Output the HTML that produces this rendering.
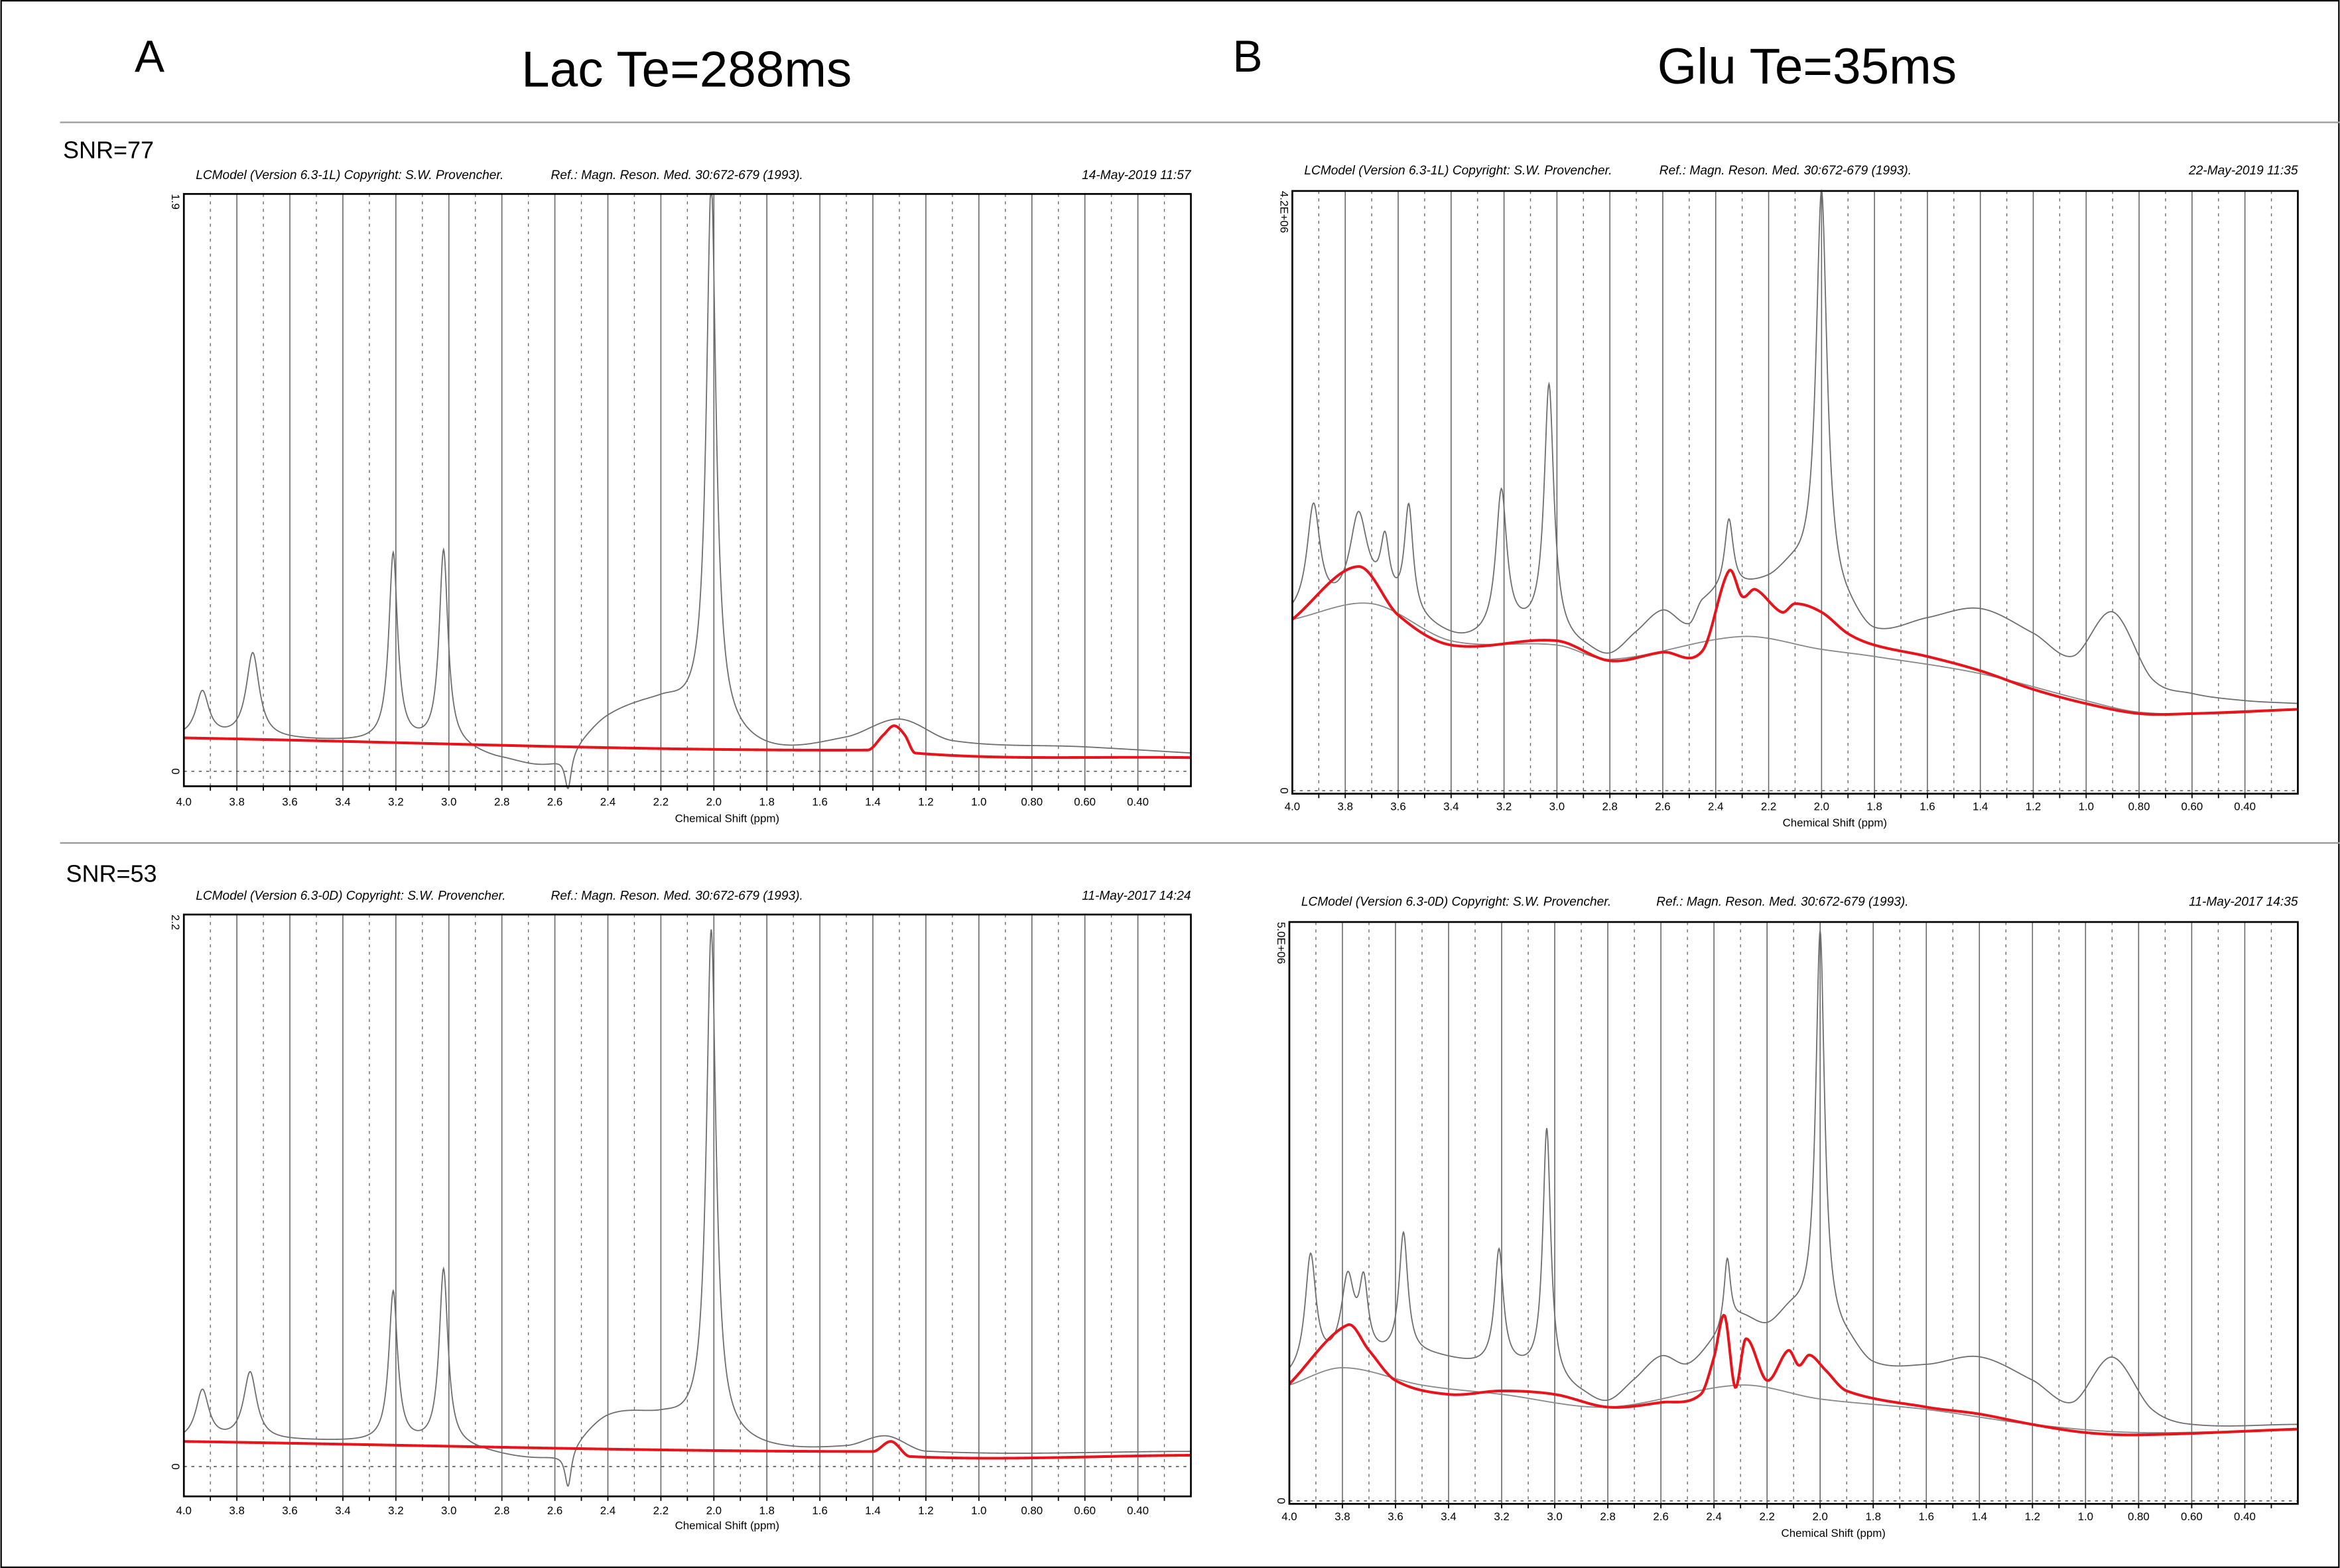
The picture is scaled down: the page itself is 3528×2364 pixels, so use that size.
<!DOCTYPE html>
<html><head><meta charset="utf-8"><style>
html,body{margin:0;padding:0;background:#fff}
svg{display:block}
text{font-family:"Liberation Sans",sans-serif}
</style></head><body>
<svg id="fig" width="3528" height="2364" viewBox="0 0 1568 1051" xmlns="http://www.w3.org/2000/svg">
<rect x="0.5" y="0.5" width="1567" height="1050" fill="#fff" stroke="#000" stroke-width="1"/>
<text x="90" y="48" font-size="30">A</text>
<text x="460" y="58" font-size="34" text-anchor="middle">Lac Te=288ms</text>
<text x="826" y="48" font-size="30">B</text>
<text x="1211" y="56" font-size="34" text-anchor="middle">Glu Te=35ms</text>
<line x1="40" y1="82" x2="1568" y2="82" stroke="#999" stroke-width="1"/>
<line x1="40" y1="565" x2="1568" y2="565" stroke="#999" stroke-width="1"/>
<text x="42" y="106" font-size="16">SNR=77</text>
<text x="44" y="591" font-size="16">SNR=53</text>
</svg>
<script>
// ---- data (ppm, value) ----
const ticksPpm = [4.0,3.8,3.6,3.4,3.2,3.0,2.8,2.6,2.4,2.2,2.0,1.8,1.6,1.4,1.2,1.0,0.8,0.6,0.4];
const tickLabels = ["4.0","3.8","3.6","3.4","3.2","3.0","2.8","2.6","2.4","2.2","2.0","1.8","1.6","1.4","1.2","1.0","0.80","0.60","0.40"];

const a1Base = [[4.0,0.11],[3.5,0.10],[3.0,0.08],[2.8,0.04],[2.6,0.03],[2.4,0.18],[2.2,0.23],[2.1,0.20],[1.8,0.08],[1.5,0.11],[1.3,0.17],[1.1,0.10],[0.6,0.08],[0.2,0.06]];
const a1Peaks = [[3.93,0.15,0.03],[3.74,0.28,0.03],[3.21,0.62,0.02],[3.02,0.64,0.02],[2.01,1.78,0.022],[2.55,-0.12,0.015]];
const a1Fit = [[4.0,0.11],[1.42,0.07],[1.36,0.12],[1.32,0.15],[1.28,0.12],[1.24,0.06],[0.2,0.045]];
const a1Bl = [];

const a2Base = [[4.0,0.10],[3.5,0.10],[3.0,0.08],[2.6,0.04],[2.4,0.20],[2.2,0.20],[2.1,0.17],[1.8,0.08],[1.5,0.08],[1.35,0.12],[1.2,0.06],[0.2,0.06]];
const a2Peaks = [[3.93,0.20,0.03],[3.75,0.27,0.03],[3.21,0.60,0.02],[3.02,0.70,0.02],[2.01,2.0,0.022],[2.55,-0.15,0.015]];
const a2Fit = [[4.0,0.10],[1.40,0.06],[1.33,0.10],[1.26,0.04],[0.2,0.045]];
const a2Bl = [];

const b1Base = [[4.0,1.20],[3.85,1.25],[3.7,1.31],[3.5,1.15],[3.35,1.05],[3.1,1.10],[2.9,0.99],[2.8,0.94],[2.7,1.10],[2.6,1.25],[2.5,1.15],[2.45,1.31],[2.3,1.41],[2.2,1.46],[2.1,1.52],[1.9,1.25],[1.8,1.10],[1.6,1.20],[1.4,1.27],[1.2,1.10],[1.05,0.94],[0.9,1.25],[0.75,0.78],[0.6,0.68],[0.4,0.63],[0.2,0.61]];
const b1Peaks = [[3.92,0.75,0.03],[3.75,0.6,0.04],[3.65,0.4,0.02],[3.56,0.75,0.02],[3.21,1.0,0.025],[3.03,1.75,0.022],[2.35,0.5,0.02],[2.0,2.8,0.025]];
const b1Fit = [[4.0,1.20],[3.75,1.57],[3.6,1.23],[3.4,1.02],[3.0,1.05],[2.8,0.91],[2.6,0.97],[2.45,0.98],[2.35,1.54],[2.3,1.36],[2.25,1.41],[2.15,1.25],[2.1,1.31],[2.0,1.25],[1.9,1.10],[1.8,1.02],[1.6,0.94],[1.4,0.84],[1.2,0.71],[1.0,0.61],[0.8,0.54],[0.6,0.54],[0.2,0.57]];
const b1Bl = [[4.0,1.20],[3.7,1.31],[3.4,1.05],[3.0,1.02],[2.8,0.92],[2.3,1.08],[2.0,0.99],[1.8,0.94],[1.4,0.82],[1.0,0.63],[0.8,0.55],[0.5,0.54],[0.2,0.57]];

const b2Base = [[4.0,1.04],[3.8,1.17],[3.5,1.24],[3.3,1.17],[3.1,1.11],[2.9,0.92],[2.8,0.85],[2.7,1.04],[2.6,1.24],[2.5,1.17],[2.4,1.37],[2.3,1.56],[2.2,1.50],[2.1,1.62],[1.9,1.37],[1.8,1.17],[1.6,1.17],[1.4,1.24],[1.2,1.04],[1.05,0.85],[0.9,1.24],[0.75,0.79],[0.6,0.66],[0.2,0.66]];
const b2Peaks = [[3.92,1.0,0.025],[3.78,0.7,0.03],[3.72,0.6,0.02],[3.57,1.05,0.02],[3.21,1.0,0.02],[3.03,2.15,0.018],[2.35,0.6,0.015],[2.0,3.4,0.02]];
const b2Fit = [[4.0,1.01],[3.78,1.52],[3.7,1.30],[3.6,1.04],[3.4,0.92],[3.2,0.95],[3.0,0.92],[2.8,0.81],[2.6,0.85],[2.45,0.92],[2.4,1.24],[2.36,1.60],[2.32,0.98],[2.28,1.40],[2.2,1.04],[2.12,1.30],[2.08,1.17],[2.04,1.26],[1.98,1.13],[1.9,0.95],[1.6,0.81],[1.4,0.75],[1.2,0.66],[1.0,0.59],[0.8,0.57],[0.2,0.62]];
const b2Bl = [[4.0,1.0],[3.8,1.15],[3.5,1.0],[3.2,0.92],[2.8,0.81],[2.3,1.0],[2.0,0.88],[1.6,0.79],[1.2,0.66],[0.8,0.59],[0.2,0.62]];

const NS = "http://www.w3.org/2000/svg";
const svg = document.getElementById('fig');
function mk(tag, attrs, parent){const e=document.createElementNS(NS,tag);for(const k in attrs)e.setAttribute(k,attrs[k]);(parent||svg).appendChild(e);return e;}
// smooth (cubic Hermite) interpolation over descending-ppm control points
function slope(pts,i){
 const n=pts.length;
 const a=pts[Math.max(0,i-1)], b=pts[Math.min(n-1,i+1)];
 return (b[1]-a[1])/(b[0]-a[0]);
}
function interp(pts,x){
 for(let i=0;i<pts.length-1;i++){
  const a=pts[i],b=pts[i+1];
  if(x<=a[0]&&x>=b[0]){
   const h=b[0]-a[0]; const t=(x-a[0])/h;
   const m0=slope(pts,i)*h, m1=slope(pts,i+1)*h;
   const t2=t*t,t3=t2*t;
   return (2*t3-3*t2+1)*a[1]+(t3-2*t2+t)*m0+(-2*t3+3*t2)*b[1]+(t3-t2)*m1;
  }
 }
 return pts[pts.length-1][1];
}

const panels = [
 {id:'a1',L:123,R:798,T:130,Z:517,B:527,ymax:1.9,top:'1.9',hy:120,ver:'6.3-1L',date:'14-May-2019  11:57',ly:540,ty:551,base:a1Base,peaks:a1Peaks,fit:a1Fit,bl:a1Bl},
 {id:'b1',L:866,R:1540,T:128,Z:530,B:532,ymax:4.2,top:'4.2E+06',hy:117,ver:'6.3-1L',date:'22-May-2019  11:35',ly:543,ty:554,base:b1Base,peaks:b1Peaks,fit:b1Fit,bl:b1Bl},
 {id:'a2',L:123,R:798,T:613,Z:983,B:1003,ymax:2.2,top:'2.2',hy:603,ver:'6.3-0D',date:'11-May-2017  14:24',ly:1015,ty:1025,base:a2Base,peaks:a2Peaks,fit:a2Fit,bl:a2Bl},
 {id:'b2',L:864,R:1540,T:618,Z:1006,B:1008,ymax:5.0,top:'5.0E+06',hy:607,ver:'6.3-0D',date:'11-May-2017  14:35',ly:1019,ty:1030,base:b2Base,peaks:b2Peaks,fit:b2Fit,bl:b2Bl}
];

panels.forEach(p=>{
 const g = mk('g',{});
 
 
 const xs = v => p.L + (4.0 - v)/(3.8)*(p.R-p.L);
 const ys = v => p.Z - v/p.ymax*(p.Z-p.T);
 const curve = pts => { let d=''; for(let v=4.0; v>=0.2-1e-9; v-=0.004){ d += (d?'L':'M')+xs(v).toFixed(2)+','+ys(interp(pts,v)).toFixed(2);} return d; };
 const h1 = mk('text',{x:p.L+8,y:p.hy,'font-size':8.5,'font-style':'italic'},g); h1.textContent='LCModel (Version '+p.ver+') Copyright: S.W. Provencher.';
 
 
 const h2 = mk('text',{x:p.L+246,y:p.hy,'font-size':8.5,'font-style':'italic'},g); h2.textContent='Ref.: Magn. Reson. Med. 30:672-679 (1993).';
 
 
 const h3 = mk('text',{x:p.R,y:p.hy,'font-size':8.5,'font-style':'italic','text-anchor':'end'},g); h3.textContent=p.date;
 
 
 for(let i=1;i<38;i++){
  const v = 4.0 - i*0.1;
  const x = xs(v);
  const ln = mk('line',{x1:x,y1:p.T,x2:x,y2:p.B,stroke:'#666','stroke-width':i%2===0?0.7:0.6,'stroke-dasharray':i%2===0?'none':'2,3'},g);
  
  
  const tk = mk('line',{x1:x,y1:p.B,x2:x,y2:p.B+3,stroke:'#000','stroke-width':0.8},g);
  
  
 }
 const zl = mk('line',{x1:p.L,y1:p.Z,x2:p.R,y2:p.Z,stroke:'#555','stroke-width':0.7,'stroke-dasharray':'2,3'},g);
 
 
 ticksPpm.forEach((v,i)=>{
  const t = mk('text',{x:xs(v),y:p.ly,'font-size':7.5,'text-anchor':'middle'},g); t.textContent=tickLabels[i];
  
  
 });
 const xt = mk('text',{x:xs(1.95),y:p.ty,'font-size':7.5,'text-anchor':'middle'},g); xt.textContent='Chemical Shift (ppm)';
 
 
 const yt = mk('text',{x:0,y:0,'font-size':7.5,transform:`translate(${p.L-8},${p.T}) rotate(90)`},g); yt.textContent=p.top;
 
 
 const yz = mk('text',{x:0,y:0,'font-size':7.5,'text-anchor':'middle',transform:`translate(${p.L-8},${p.Z}) rotate(90)`},g); yz.textContent='0';
 
 
 let d='';
 for(let v=4.0; v>=0.2-1e-9; v-=0.002){
  let y = interp(p.base,v);
  p.peaks.forEach(k=>{const u=(v-k[0])/k[2]; y += k[1]/(1+u*u);});
  y = Math.min(y,p.ymax);
  d += (d?'L':'M')+xs(v).toFixed(2)+','+ys(y).toFixed(2);
 }
 const sp = mk('path',{d:d,fill:'none',stroke:'#6e6e6e','stroke-width':0.8},g);
 
 
 if(p.bl.length){
  const bp = mk('path',{d:curve(p.bl),fill:'none',stroke:'#888','stroke-width':0.8},g);
  
  
 }
 const fp = mk('path',{d:curve(p.fit),fill:'none',stroke:'#e8141c','stroke-width':1.8,'stroke-linejoin':'round'},g);
 
 
 const fr = mk('rect',{x:p.L,y:p.T,width:p.R-p.L,height:p.B-p.T,fill:'none',stroke:'#000','stroke-width':1.2},g);
 
 
});
</script>
</body></html>
